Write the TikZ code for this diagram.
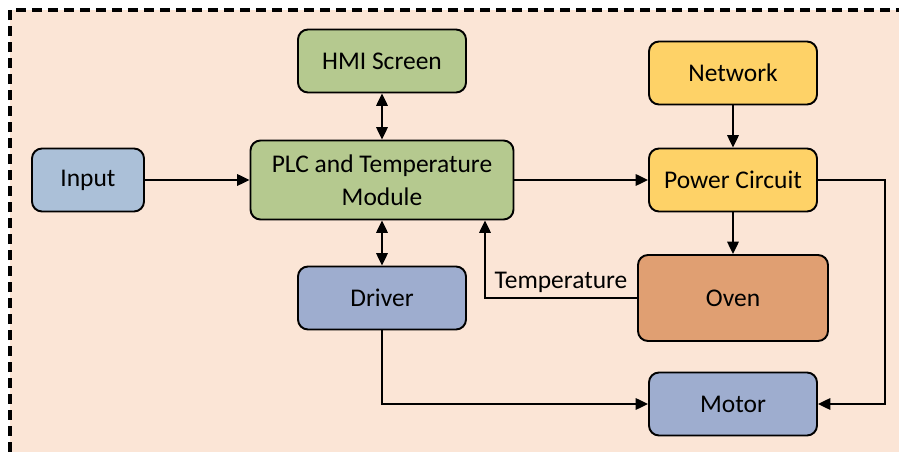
\documentclass[tikz,border=0pt]{standalone}
\usepackage{fontspec}
\setmainfont{Carlito}
\usetikzlibrary{positioning,arrows.meta}

\definecolor{bgpeach}{HTML}{FBE5D6}
\definecolor{plcgreen}{HTML}{B5C98F}
\definecolor{inblue}{HTML}{ABC0D8}
\definecolor{drvblue}{HTML}{9EADCF}
\definecolor{pwryellow}{HTML}{FED267}
\definecolor{ovenorange}{HTML}{E09F72}

\tikzset{
  block/.style={draw, line width=1.1pt, rounded corners=0.2cm, minimum width=3.36cm,
    minimum height=1.26cm, align=center, font=\fontsize{14.5}{19}\selectfont},
  link/.style={line width=1.1pt, -{Triangle[length=7pt,width=6.5pt]}},
  twoway/.style={line width=1.1pt, {Triangle[length=7pt,width=6.5pt]}-{Triangle[length=7pt,width=6.5pt]}}
}

\begin{document}
\begin{tikzpicture}[node distance=2cm,on grid]
   % background frame, dashed on top and left only
   \useasboundingbox (-7.64,-5.44) rectangle (10.34,3.6);
   \fill[bgpeach] (-7.44,-5.44) rectangle (10.34,3.4);
   \draw[line width=2.2pt, dash pattern=on 0.2cm off 0.12cm] (-7.44,-5.44) -- (-7.44,3.4) -- (10.34,3.4);

   \node[block] (plc) [fill=plcgreen, minimum width=5.26cm, minimum height=1.58cm] {PLC and Temperature\\Module};
   \node[block] (hmi) [above=2.38cm of plc, fill=plcgreen] {HMI Screen};
   \node[block] (driver) [below=2.36cm of plc, fill=drvblue] {Driver};
   \node[block] (input) [left=5.88cm of plc, fill=inblue, minimum width=2.24cm] {Input};
   \node[block] (power) [right=7.02cm of plc, fill=pwryellow] {Power Circuit};
   \node[block] (network) [above=2.14cm of power, fill=pwryellow] {Network};
   \node[block] (oven) [below=2.36cm of power, fill=ovenorange, minimum width=3.8cm, minimum height=1.72cm] {Oven};
   \node[block] (motor) [below=2.12cm of oven, fill=drvblue] {Motor};

   \draw[link] (input) -- (plc);
   \draw[link] (plc) -- (power);
   \draw[twoway] (hmi) -- (plc);
   \draw[twoway] (plc) -- (driver);
   \draw[link] (network) -- (power);
   \draw[link] (power) -- (oven);
   \draw[link] (oven.west) -| ([xshift=2.06cm]plc.south)
      node[pos=0.25, above=-1pt, font=\fontsize{14.5}{17}\selectfont] {Temperature};
   \draw[link] (driver.south) |- (motor.west);
   \draw[link] (power.east) -- ++(1.34,0) |- (motor.east);
\end{tikzpicture}
\end{document}
